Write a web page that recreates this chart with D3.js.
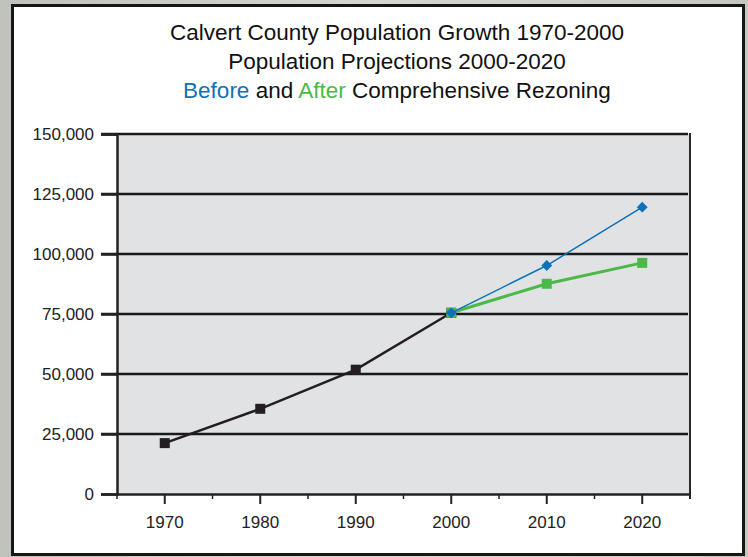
<!DOCTYPE html>
<html>
<head>
<meta charset="utf-8">
<script src="https://cdn.jsdelivr.net/npm/d3@7"></script>
<style>
  html, body { margin: 0; padding: 0; }
  body { width: 748px; height: 557px; overflow: hidden; }
  svg { display: block; font-family: "Liberation Sans", Arial, Helvetica, sans-serif; }
</style>
</head>
<body>
<svg id="chart" width="748" height="557"></svg>
<script>
// ---- data ----
const years = ["1970", "1980", "1990", "2000", "2010", "2020"];
const historicalYears = ["1970", "1980", "1990", "2000"];
const historicalValues = [21200, 35500, 51800, 75500];
const projectionYears = ["2000", "2010", "2020"];
const beforeValues = [75500, 95200, 119500];
const afterValues = [75500, 87600, 96300];
const yTicks = [0, 25000, 50000, 75000, 100000, 125000, 150000];
const titleLines = ["Calvert County Population Growth 1970-2000", "Population Projections 2000-2020"];

// ---- layout ----
const svg = d3.select("#chart");
const W = 748, H = 557;
const plot = { left: 117, right: 690, top: 134, bottom: 494 };

const defs = svg.append("defs");
const grad = defs.append("linearGradient").attr("id", "bg").attr("x1", 0).attr("y1", 0).attr("x2", 1).attr("y2", 0);
grad.append("stop").attr("offset", "0%").attr("stop-color", "#bfc3bb");
grad.append("stop").attr("offset", "50%").attr("stop-color", "#d4d7cf");
grad.append("stop").attr("offset", "100%").attr("stop-color", "#c4c8c0");

svg.append("rect").attr("width", W).attr("height", H).attr("fill", "url(#bg)");
svg.append("rect").attr("x", 12.5).attr("y", 5.5).attr("width", 731).attr("height", 549)
  .attr("fill", "#ffffff").attr("stroke", "#161616").attr("stroke-width", 3);

// title
const title = svg.append("g").attr("text-anchor", "middle").attr("font-size", 22.5).attr("fill", "#111");
titleLines.forEach((t, i) => {
  title.append("text").attr("x", 397).attr("y", 40 + i * 29).text(t);
});
const t3 = title.append("text").attr("x", 397).attr("y", 98);
t3.append("tspan").attr("fill", "#0b72b9").text("Before");
t3.append("tspan").text(" and ");
t3.append("tspan").attr("fill", "#4bb848").text("After");
t3.append("tspan").text(" Comprehensive Rezoning");

// scales
const x = d3.scaleBand().domain(years).range([plot.left, plot.right]).padding(0);
const xc = d => x(d) + x.bandwidth() / 2;
const y = d3.scaleLinear().domain([0, 150000]).range([plot.bottom, plot.top]);

// plot background
svg.append("rect").attr("x", plot.left).attr("y", plot.top)
  .attr("width", plot.right - plot.left).attr("height", plot.bottom - plot.top)
  .attr("fill", "#e1e2e4");

// gridlines
svg.append("g").selectAll("line").data(yTicks.filter(v => v > 0)).join("line")
  .attr("x1", plot.left - 16).attr("x2", plot.right - 2)
  .attr("y1", d => y(d)).attr("y2", d => y(d))
  .attr("stroke", "#1a1a1a").attr("stroke-width", 2.5);

// right border
svg.append("line").attr("x1", plot.right).attr("x2", plot.right)
  .attr("y1", plot.top - 1).attr("y2", plot.bottom + 5)
  .attr("stroke", "#2a2a2a").attr("stroke-width", 2);

// y axis
const yAxis = d3.axisLeft(y).tickValues(yTicks).tickFormat(d3.format(",")).tickSize(16).tickPadding(7);
const gy = svg.append("g").attr("transform", `translate(${plot.left},0)`).call(yAxis);
gy.select(".domain").attr("stroke", "#222").attr("stroke-width", 2.5);
gy.selectAll(".tick line").attr("stroke", "#222").attr("stroke-width", 2.5);
gy.selectAll(".tick text").attr("font-size", 17).attr("fill", "#222")
  .attr("font-family", "'Liberation Sans', Arial, sans-serif");

// x axis (category centers)
const xAxis = d3.axisBottom(x).tickSize(10).tickPadding(12).tickSizeOuter(0);
const gx = svg.append("g").attr("transform", `translate(0,${plot.bottom})`).call(xAxis);
gx.select(".domain").attr("stroke", "#222").attr("stroke-width", 2.5);
gx.selectAll(".tick line").attr("stroke", "#222").attr("stroke-width", 2);
gx.selectAll(".tick text").attr("font-size", 17).attr("fill", "#222")
  .attr("font-family", "'Liberation Sans', Arial, sans-serif");

// boundary ticks
const bounds = years.map(d => x(d)).concat([x(years[years.length - 1]) + x.bandwidth()]);
svg.append("g").selectAll("line").data(bounds).join("line")
  .attr("x1", d => d).attr("x2", d => d)
  .attr("y1", plot.bottom).attr("y2", plot.bottom + 5)
  .attr("stroke", "#222").attr("stroke-width", 1.5);

// lines
const line = d3.line().x(d => xc(d[0])).y(d => y(d[1]));
const hist = historicalYears.map((d, i) => [d, historicalValues[i]]);
const before = projectionYears.map((d, i) => [d, beforeValues[i]]);
const after = projectionYears.map((d, i) => [d, afterValues[i]]);

svg.append("path").datum(hist).attr("d", line).attr("fill", "none")
  .attr("stroke", "#231f20").attr("stroke-width", 2.5);
svg.append("g").selectAll("rect").data(hist).join("rect")
  .attr("x", d => xc(d[0]) - 5).attr("y", d => y(d[1]) - 5)
  .attr("width", 10).attr("height", 10).attr("fill", "#231f20");

svg.append("path").datum(after).attr("d", line).attr("fill", "none")
  .attr("stroke", "#4bb848").attr("stroke-width", 3);
svg.append("g").selectAll("rect").data(after).join("rect")
  .attr("x", d => xc(d[0]) - 5).attr("y", d => y(d[1]) - 5)
  .attr("width", 10).attr("height", 10).attr("fill", "#4bb848");

svg.append("path").datum(before).attr("d", line).attr("fill", "none")
  .attr("stroke", "#0b72b9").attr("stroke-width", 1.5);
const diamond = d3.symbol().type(d3.symbolDiamond2).size(75);
svg.append("g").selectAll("path").data(before).join("path")
  .attr("d", diamond)
  .attr("transform", d => `translate(${xc(d[0])},${y(d[1])})`)
  .attr("fill", "#0b72b9");
</script>
</body>
</html>
